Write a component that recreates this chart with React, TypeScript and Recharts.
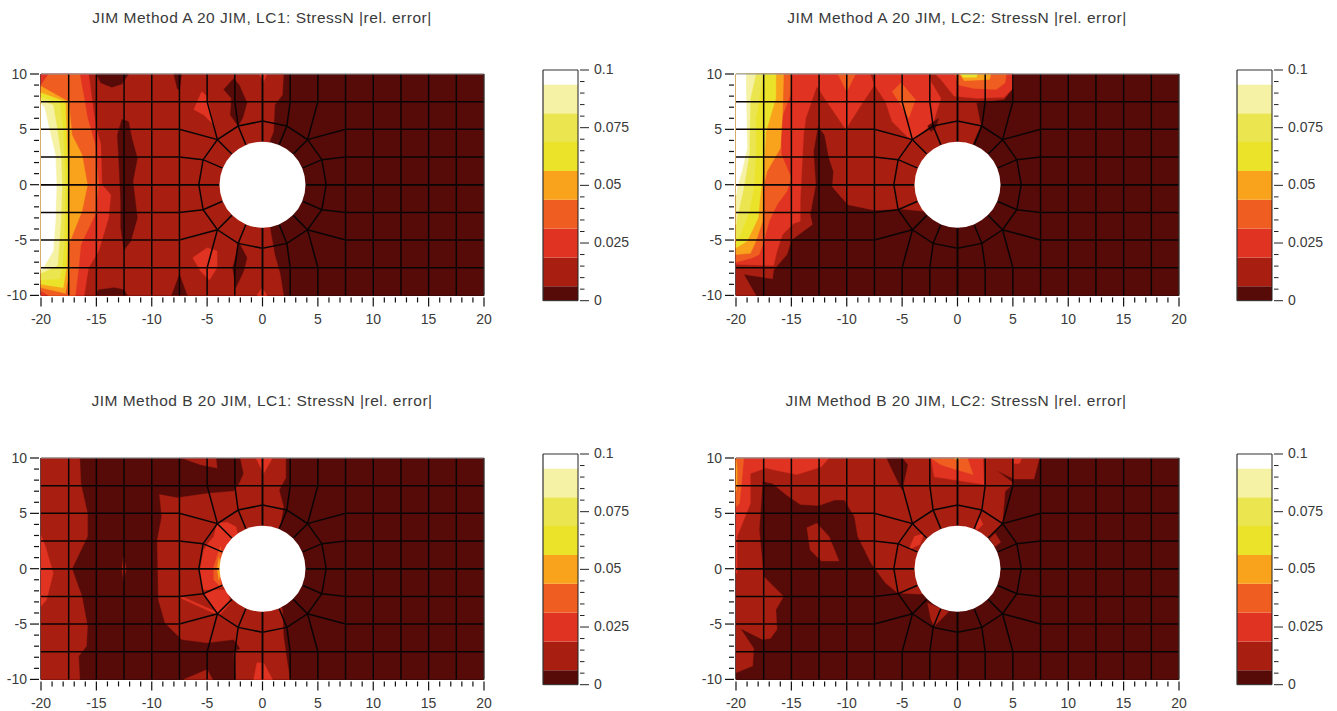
import { BarChart, Bar, ReferenceDot, ReferenceLine, Scatter, ScatterChart, XAxis, YAxis } from "recharts";

type Pt = [number, number];
type Band = [number, Pt[]];

// colour of each contour band, lowest first
const bandColors = ["#560b08", "#a81f12", "#e13322", "#ef5e20", "#f8a31b", "#ebe32a", "#ebe54f", "#f5f1a5", "#ffffff"];
const bandLimits = [0.00625, 0.0125, 0.0125, 0.0125, 0.0125, 0.0125, 0.0125, 0.0125, 0.00625];
const xTicks = [-20, -19, -18, -17, -16, -15, -14, -13, -12, -11, -10, -9, -8, -7, -6, -5, -4, -3, -2, -1, 0, 1, 2, 3, 4, 5, 6, 7, 8, 9, 10, 11, 12, 13, 14, 15, 16, 17, 18, 19, 20];
const yTicks = [-10, -9, -8, -7, -6, -5, -4, -3, -2, -1, 0, 1, 2, 3, 4, 5, 6, 7, 8, 9, 10];
const barTicks = [0, 0.005, 0.01, 0.015, 0.02, 0.025, 0.03, 0.035, 0.04, 0.045, 0.05, 0.055, 0.06, 0.065, 0.07, 0.075, 0.08, 0.085, 0.09, 0.095, 0.1];

const whole: Pt[] = [[-20, 10], [20, 10], [20, -10], [-20, -10]];

// contour regions, painted in order
const methodALc1: Band[] = [
  [0, whole],
  [1, [[-20, 10], [1.9, 10], [1.8, 8.1], [1.1, 7.2], [1, 4.8], [0.6, 3.8], [0, 0], [0.7, -4], [1.1, -6.3], [1.6, -8.1], [1.9, -10], [-20, -10]]],
  [0, [[-15, 10], [-14.6, 9.2], [-13.6, 8.8], [-12.7, 9.1], [-12.1, 10]]],
  [0, [[-15, -10], [-14.8, -9.5], [-13.4, -9.3], [-12.5, -9.5], [-12.2, -10]]],
  [0, [[-12.7, 5.9], [-12.1, 5.7], [-11.8, 4.2], [-11.3, 2.4], [-11.7, 0.3], [-11.3, -3], [-11.9, -5.1], [-12.5, -5.9], [-12.8, -3.9], [-12.8, -1.5], [-13, 2.7], [-13.1, 4.5]]],
  [0, [[-8, 10], [-7.7, 8.7], [-7.5, 8.5], [-7.3, 10]]],
  [0, [[-8.2, -10], [-7.5, -8.1], [-6.8, -10]]],
  [0, [[-3.5, 8.6], [-2.6, 9.6], [-2.1, 9], [-1.4, 7.4], [-1.8, 6], [-2.2, 5.3], [-2.9, 6.3], [-2.8, 7.8]]],
  [0, [[-2.1, -5.3], [-1.4, -6.6], [-1.7, -7.8], [-2.4, -9.3], [-2.7, -7.5]]],
  [2, [[-6.2, 6.8], [-5.5, 8.4], [-5, 8], [-4.4, 5.4], [-5.3, 6.3]]],
  [2, [[-6.3, -6.6], [-5, -5.7], [-4.1, -6], [-4.1, -7.5], [-4.8, -8.6], [-5.6, -7.8]]],
  [2, [[-0.3, 10], [0.1, 9.3], [0.4, 10]]],
  [2, [[-0.5, -10], [-0.05, -9.3], [0.4, -10]]],
  [2, [[-20, 10], [-15.7, 10], [-15.2, 6.3], [-15, 5.1], [-14.6, 3.6], [-14.5, 0], [-13.7, -0.9], [-13.9, -3], [-14.8, -6], [-15.7, -7.5], [-15.9, -8.7], [-16.1, -10], [-20, -10]]],
  [3, [[-20, 9], [-19.3, 10], [-16.5, 10], [-16.1, 7.8], [-15.8, 6], [-15.1, 3.6], [-14.8, 0], [-15.1, -2.7], [-16.4, -5.4], [-16.6, -7.5], [-16.9, -10], [-19.3, -10], [-20, -9.6]]],
  [4, [[-20, 8.9], [-17.5, 7.5], [-17.2, 4.5], [-16.3, 2.7], [-15.8, 0], [-16.3, -2.4], [-16.9, -3.9], [-17.5, -5.4], [-17.4, -7.5], [-17.8, -9.8], [-20, -9.3]]],
  [5, [[-20, 8.3], [-17.8, 7.5], [-17.7, 4.8], [-17.5, 0], [-17.5, -2.4], [-17.6, -5.4], [-17.7, -7.5], [-18, -9.3], [-20, -9]]],
  [6, [[-20, 7.9], [-18.3, 7.4], [-18, 4.8], [-17.8, 0], [-17.9, -5.4], [-18.1, -7.5], [-18.3, -8.5], [-20, -8.6]]],
  [7, [[-20, 7.6], [-18.9, 7.2], [-18.5, 4.8], [-18.2, 2.7], [-18.1, 0], [-18.2, -3.3], [-18.4, -6], [-18.5, -7.3], [-20, -8]]],
  [8, [[-20, 7.3], [-19.7, 7], [-19.2, 4.8], [-18.7, 2.7], [-18.6, 0], [-18.7, -3.3], [-18.9, -6], [-19.8, -7.5], [-20, -7.7]]],
];

const methodALc2: Band[] = [
  [0, whole],
  [1, [[-20, 10], [5, 10], [5, 8.7], [4.2, 7.7], [1.7, 7.4], [2.1, 5.4], [1.5, 4], [0, 0], [-3, -2.4], [-5.1, -2.2], [-7.5, -2.3], [-9.9, -1.8], [-11.3, -0.2], [-11.2, 1.2], [-11.6, 2.4], [-12, 4.5], [-12.6, 5.3], [-13, 3], [-12.8, 0], [-13.3, -2.7], [-13.1, -3.6], [-15, -5], [-15.4, -6.3], [-16.6, -7.7], [-16.7, -8.5], [-19.3, -8.1], [-18.2, -10], [-20, -10]]],
  [2, [[-20, 10], [-7.9, 10], [-7.5, 9], [-6.5, 7.5], [-5.9, 5.7], [-4.1, 3.9], [-2.2, 5.6], [-1.5, 7.8], [-2.4, 9.3], [-2.6, 10], [-7.5, 10], [-7.5, 9], [-8.7, 7.2], [-10.1, 5], [-12, 7.8], [-12.7, 8.9], [-13.7, 6], [-13.9, 4.5], [-14.2, -1.5], [-14.2, -3.3], [-14.8, -3.5], [-15.8, -4.5], [-16.3, -6], [-16.6, -7.3], [-20, -7.2]]],
  [2, [[-2, 10], [5, 10], [5, 8.7], [4.2, 7.9], [1.8, 7.8], [-0.3, 8], [-1.5, 9.5]]],
  [3, [[-20, 10], [-15, 10], [-15.1, 8.1], [-16, 5.7], [-15.9, 2.7], [-15, 0.6], [-15.4, -0.6], [-16.3, -1.8], [-17, -3.3], [-17.5, -5.1], [-17.9, -6.3], [-18.5, -6.6], [-20, -7]]],
  [3, [[-10.8, 10], [-10, 8.4], [-9.2, 10]]],
  [3, [[-5.9, 8.4], [-5.1, 9.2], [-3.8, 7.7], [-4.4, 6], [-5.1, 7.2]]],
  [3, [[-0.2, 10], [4.4, 10], [4.3, 9.2], [3.5, 8.6], [1.5, 8.7], [0.1, 9]]],
  [4, [[0.2, 10], [3, 10], [2.9, 9.5], [0.6, 9.4]]],
  [5, [[0.3, 10], [1.8, 10], [1.7, 9.7], [0.5, 9.7]]],
  [4, [[-20, 10], [-15.7, 10], [-15.8, 6.3], [-16, 3.3], [-17.2, 1.2], [-17.5, 0], [-17.6, -3.3], [-18.2, -5.1], [-18.7, -6.2], [-20, -6.3]]],
  [5, [[-20, 10], [-16.4, 10], [-16.4, 7.8], [-17.3, 4.8], [-17.5, 1.5], [-17.8, -0.9], [-18, -3], [-19, -5.1], [-20, -5.7]]],
  [6, [[-20, 10], [-17.5, 10], [-18.2, 6], [-18.2, 2.7], [-18.4, -0.3], [-18.8, -2.4], [-19.6, -4.5], [-20, -5]]],
  [7, [[-20, 10], [-18.2, 10], [-18.7, 7.8], [-18.8, 2.7], [-19.3, -0.3], [-19.9, -3], [-20, -3.6]]],
  [8, [[-20, 10], [-19.1, 10], [-19.1, 8.7], [-19, 3.3], [-19.4, 1.5], [-19.9, -0.3], [-20, -0.9]]],
  [0, [[-2.7, 5.3], [-1.7, 6], [-2, 5.1], [-2.4, 4.8]]],
];

const methodBLc1: Band[] = [
  [0, whole],
  [1, [[-20, 10], [-16.5, 10], [-16.4, 7.7], [-15.8, 5], [-15.8, 2.9], [-17.2, 0], [-16.3, -2.5], [-15.8, -5.2], [-15.9, -7], [-16.6, -7.9], [-16.5, -10], [-20, -10]]],
  [2, [[-20, 3], [-19.6, 2], [-18.9, -0.4], [-19.5, -2.8], [-20, -3.4]]],
  [1, [[-9.3, 6.7], [-7.7, 6.4], [-5, 6.8], [-2.6, 7], [-2.1, 7.7], [-1.7, 8.6], [-2, 10], [2.1, 10], [2.1, 8.2], [1.5, 7.1], [1.9, 5.6], [1.6, 3.8], [0, 0], [1.8, -3.7], [1.9, -6.1], [2.2, -8.2], [2.5, -10], [-2.4, -10], [-2.6, -7.6], [-2, -7.2], [-2.6, -6.4], [-5, -6.7], [-7.3, -6.4], [-8.8, -4.9], [-9.4, -2.8], [-9.5, 2.6], [-9.1, 4.7]]],
  [1, [[-7.3, 10], [-5.6, 9.4], [-4.1, 9.1], [-4.2, 10]]],
  [1, [[-7.1, -10], [-5, -9.1], [-4.5, -10]]],
  [1, [[-12.7, 0], [-12.55, 1.1], [-12.3, 0], [-12.55, -1.1]]],
  [2, [[-0.6, 10], [0.1, 8.6], [0.9, 10]]],
  [2, [[-0.8, -10], [-0.5, -8.5], [0.1, -8.5], [0.9, -10]]],
  [2, [[-4.1, 4.1], [-3.2, 4.2], [-2.4, 3.8], [-2, 2], [-3, 0], [-3, -1.5], [-4.4, -1.9], [-5.4, -1.9], [-5.7, -0.4], [-5.3, 1.7], [-4.9, 2.3], [-4.4, 2.9]]],
  [2, [[-4.4, -1.9], [-3.2, -1.9], [-2.9, -3.1], [-3.9, -4.2], [-4.9, -2.9], [-5.4, -2.2]]],
  [2, [[-7.3, -2.5], [-4.2, -3.9], [-4.2, -4.1], [-7.3, -2.7]]],
  [3, [[-3.8, 2], [-4, 1.4], [-4.4, 0.2], [-4.4, -1], [-3.8, -1.6], [-3.6, 0.5]]],
  [4, [[-3.95, 1], [-4.1, 0], [-3.95, -1], [-3.7, 0]]],
];

const methodBLc2: Band[] = [
  [0, whole],
  [1, [[-20, 10], [7.4, 10], [6.9, 8.1], [5.1, 8.1], [3.5, 8.9], [5.1, 7.7], [4.3, 7], [4.05, 4.1], [3.1, 3], [0, 0], [-3.3, -2.3], [-5.4, -2.2], [-6.5, -1.3], [-7.8, 0.5], [-9, 2.9], [-9.3, 4.7], [-10.2, 6.2], [-11.1, 6.2], [-12.5, 5.7], [-14.2, 5.8], [-15.5, 6.7], [-16.7, 7.7], [-17.6, 7.9], [-17.9, 3.5], [-17.5, -0.7], [-15.7, -2.5], [-16.4, -3.7], [-16.3, -5.5], [-16.9, -6.3], [-17.6, -6.4], [-19.6, -5.4], [-18.4, -7.2], [-18.5, -8.8], [-20, -9.4]]],
  [0, [[-6.4, 10], [-5, 10], [-4.5, 9.4], [-5, 7.1], [-5.4, 7.9]]],
  [1, [[-13.6, 3.7], [-12.7, 4.1], [-11.6, 2.9], [-10.7, 0.7], [-12.3, 0.7], [-13.3, 1.7]]],
  [1, [[-2.7, -3.1], [-0.8, -3.9], [-2.1, -5.2], [-2.4, -4.6]]],
  [1, [[2.9, 2.7], [3.4, 3.2], [3.9, 2.4], [3.4, 2]]],
  [2, [[-20, 10], [-11.6, 10], [-12.3, 9.2], [-14.5, 8.5], [-16, 8.8], [-17.3, 9.1], [-18.7, 8.6], [-18.7, 5.9], [-19.9, 2.9], [-19.9, -0.4], [-20, -0.4]]],
  [3, [[-20, 10], [-19.3, 10], [-19.5, 7.7], [-19.7, 5.9], [-20, 5.6]]],
  [4, [[-20, 9.8], [-19.9, 9], [-19.9, 7.6], [-20, 7]]],
  [2, [[-2.4, 10], [-2.1, 8.3], [2.4, 7.6], [2.3, 10]]],
  [2, [[5, 10], [5.8, 10], [5.6, 9.5], [5.1, 9.5]]],
  [3, [[-2.4, 10], [-1.5, 9.4], [-0.6, 9.1], [1.4, 8.5], [0.9, 10]]],
  [4, [[-0.3, 10], [0.2, 10], [0, 9.7]]],
  [2, [[-4.4, 1.7], [-3.9, 2.9], [-3, 3.2], [-3.4, 2.2]]],
  [2, [[1.5, 3.8], [2, 4.6], [2.3, 4], [1.8, 3.5]]],
];

// finite element mesh, upper left quarter, mirrored for the other three
const meshQuarter: Pt[][] = [
  [[-17.5, 10], [-17.5, 0]],
  [[-15, 10], [-15, 0]],
  [[-12.5, 10], [-12.5, 0]],
  [[-10, 10], [-10, 0]],
  [[-7.5, 10], [-7.5, 0]],
  [[-20, 7.5], [0, 7.5]],
  [[-20, 5], [-7.5, 5], [-4.07, 4.07], [-2.75, 2.75]],
  [[-20, 2.5], [-7.5, 2.5], [-5.36, 2.26], [-3.6, 1.5]],
  [[-20, 0], [-3.9, 0]],
  [[-5, 10], [-5, 7.5], [-4.07, 4.07]],
  [[-2.5, 10], [-2.5, 7.5], [-2.2, 5.3], [-1.5, 3.6]],
  [[0, 10], [0, 3.9]],
  [[0, 5.75], [-2.2, 5.3], [-4.07, 4.07], [-5.36, 2.26], [-5.75, 0]],
];
const meshLines: Pt[][] = meshQuarter.flatMap((l) => [
  l,
  l.map(([x, y]): Pt => [-x, y]),
  l.map(([x, y]): Pt => [x, -y]),
  l.map(([x, y]): Pt => [-x, -y]),
]);
const topEdge: Pt[] = [[-20, 10], [20, 10]];
const rightEdge: Pt[] = [[20, 10], [20, -10]];

const toRows = (pts: Pt[]) => pts.map(([x, y]) => ({ x, y }));
const noDot = () => <g />;
const font = "'Liberation Sans', Arial, sans-serif";
const textColor = "#3a3a3a";

const BandShape = (color: string) => (props: any) => (
  <polygon points={props.points.map((p: any) => `${p.x},${p.y}`).join(" ")} fill={color} stroke={color} strokeWidth={0.4} />
);

function XTick({ x, y, payload }: any) {
  const major = payload.value % 5 === 0;
  return (
    <g>
      <line x1={x} x2={x} y1={y} y2={y + (major ? 9 : 5)} stroke="#111" strokeWidth={1.2} />
      {major && (
        <text x={x} y={y + 26.5} textAnchor="middle" fontSize={14} fontFamily={font} fill={textColor}>
          {payload.value}
        </text>
      )}
    </g>
  );
}

function YTick({ x, y, payload }: any) {
  const major = payload.value % 5 === 0;
  return (
    <g>
      <line x1={x} x2={x - (major ? 9 : 5)} y1={y} y2={y} stroke="#111" strokeWidth={1.2} />
      {major && (
        <text x={x - 12} y={y + 5} textAnchor="end" fontSize={14} fontFamily={font} fill={textColor}>
          {payload.value}
        </text>
      )}
    </g>
  );
}

function BarTick({ x, y, payload }: any) {
  const major = Math.round(payload.value * 1000) % 25 === 0;
  return (
    <g>
      <line x1={x} x2={x + (major ? 9 : 4.5)} y1={y} y2={y} stroke="#222" strokeWidth={1} />
      {major && (
        <text x={x + 14} y={y + 4} fontSize={14} fontFamily={font} fill={textColor}>
          {payload.value}
        </text>
      )}
    </g>
  );
}

function Contour({ title, titleX, titleY, bands, left, top }: { title: string; titleX: number; titleY: number; bands: Band[]; left: number; top: number }) {
  return (
    <>
      <div
        style={{
          position: "absolute",
          left: titleX - 200,
          top: titleY,
          width: 400,
          textAlign: "center",
          fontFamily: font,
          fontSize: 15.5,
          letterSpacing: 0.5,
          color: textColor,
          whiteSpace: "nowrap",
        }}
      >
        {title}
      </div>
      <div style={{ position: "absolute", left, top }}>
        <ScatterChart width={500} height={270} margin={{ top: 14, right: 17, bottom: 0, left: 0 }}>
          <XAxis type="number" dataKey="x" domain={[-20, 20]} ticks={xTicks} interval={0} height={34.6} tickSize={0} tick={XTick} stroke="#111" strokeWidth={1.4} />
          <YAxis type="number" dataKey="y" domain={[-10, 10]} ticks={yTicks} interval={0} width={40} tickSize={0} tick={YTick} stroke="#111" strokeWidth={1.4} />
          {bands.map(([level, pts], i) => (
            <Scatter key={`b${i}`} data={toRows(pts)} isAnimationActive={false} shape={noDot} line={BandShape(bandColors[level])} />
          ))}
          {meshLines.map((l, i) => (
            <Scatter key={`m${i}`} data={toRows(l)} isAnimationActive={false} shape={noDot} line={{ stroke: "#0a0505", strokeWidth: 1.5 }} />
          ))}
          <Scatter data={toRows(topEdge)} isAnimationActive={false} shape={noDot} line={{ stroke: "#8d989e", strokeWidth: 1 }} />
          <Scatter data={toRows(rightEdge)} isAnimationActive={false} shape={noDot} line={{ stroke: "#333", strokeWidth: 1.2 }} />
          <ReferenceDot x={0} y={0} r={43} fill="#ffffff" stroke="none" />
        </ScatterChart>
      </div>
    </>
  );
}

const barRow = [Object.fromEntries(bandLimits.map((v, i) => [`b${i}`, v]))];

function ColorBar({ left, top }: { left: number; top: number }) {
  return (
    <div style={{ position: "absolute", left: left - 3, top }}>
      <BarChart width={113} height={250} data={barRow} margin={{ top: 10, right: 0, bottom: 9.3, left: 2 }} barCategoryGap={0}>
        <XAxis hide />
        <YAxis yAxisId="bar" orientation="right" domain={[0, 0.1]} ticks={barTicks} interval={0} width={75} tickSize={0} tick={BarTick} stroke="#222" />
        <YAxis yAxisId="frame" orientation="left" domain={[0, 0.1]} width={1} tick={false} tickLine={false} stroke="#333" strokeWidth={1.2} />
        {bandLimits.map((_, i) => (
          <Bar key={i} yAxisId="bar" dataKey={`b${i}`} stackId="s" fill={bandColors[i]} isAnimationActive={false} />
        ))}
        <ReferenceLine yAxisId="bar" y={0.1} stroke="#333" strokeWidth={1.2} />
        <ReferenceLine yAxisId="bar" y={0} stroke="#333" strokeWidth={1} />
      </BarChart>
    </div>
  );
}

export default function App() {
  return (
    <div style={{ position: "absolute", left: 0, top: 0, width: 1337, height: 711, background: "#fff", overflow: "hidden" }}>
      <Contour title="JIM Method A 20 JIM, LC1: StressN |rel. error|" titleX={262} titleY={9} bands={methodALc1} left={1} top={60.3} />
      <Contour title="JIM Method A 20 JIM, LC2: StressN |rel. error|" titleX={957} titleY={9} bands={methodALc2} left={695.7} top={60.3} />
      <Contour title="JIM Method B 20 JIM, LC1: StressN |rel. error|" titleX={262} titleY={392} bands={methodBLc1} left={1} top={444.3} />
      <Contour title="JIM Method B 20 JIM, LC2: StressN |rel. error|" titleX={956} titleY={392} bands={methodBLc2} left={695.7} top={444.3} />
      <ColorBar left={543} top={60} />
      <ColorBar left={1237} top={60} />
      <ColorBar left={543} top={443.5} />
      <ColorBar left={1237} top={443.5} />
    </div>
  );
}
